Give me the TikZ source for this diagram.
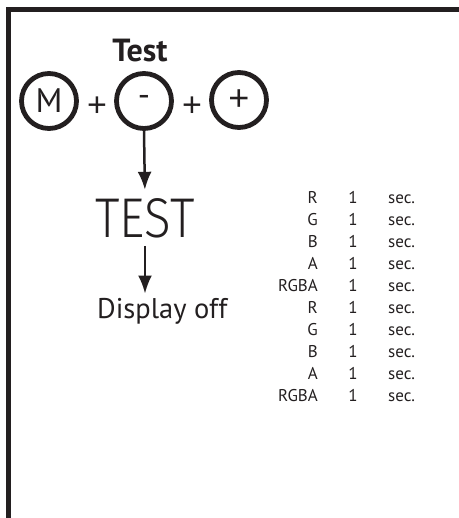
\documentclass[tikz,border=0pt]{standalone}
\usepackage{fontspec}
\usepackage{graphicx}
\setmainfont{PT Sans}
\newfontfamily\segfont{Fira Sans Light}
\newfontfamily\plusfont{Liberation Sans}
\usetikzlibrary{arrows.meta}
\definecolor{ink}{HTML}{231F20}
\tikzset{
  btn/.style={circle, draw=ink, line width=4.8pt, minimum size=55pt, inner sep=0pt, text=ink, font=\fontsize{34}{34}\selectfont},
  plustxt/.style={inner sep=0pt, text=ink, font=\fontsize{34}{34}\plusfont},
  arr/.style={draw=ink, line width=2.5pt, -{Latex[length=18pt,width=14pt]}},
  frame/.style={draw=ink, line width=5pt},
  col/.style={inner sep=0pt, text=ink, font=\fontsize{17}{17}\selectfont},
}
\begin{document}
\begin{tikzpicture}[x=1pt,y=-1pt]
\useasboundingbox (0,0) rectangle (458,518);
% frame
\coordinate (ftr) at (460,10);
\coordinate (ftl) at (8.5,10);
\coordinate (fbl) at (8.5,520);
\draw[frame] (ftr) -- (ftl) -- (fbl);
% title
\node[inner sep=0pt, anchor=base, text=ink, font=\fontsize{32}{32}\selectfont\bfseries] (title) at (140,62) {Test};
% buttons
\node[btn] (m) at (49,101) {M};
\node[plustxt] (p1) at (97,107) {+};
\node[btn] (minus) at (144,101) {\raisebox{-2pt}{-}};
\node[plustxt] (p2) at (192,107) {+};
\node[btn] (plus) at (239,100) {\plusfont\fontsize{36}{36}\selectfont\raisebox{-4pt}{+}};
% TEST display
\node[inner sep=0pt, anchor=base, text=ink, font=\fontsize{56}{56}\segfont] (test) at (145,237) {\scalebox{0.88}[1]{TEST}};
\node[inner sep=0pt, anchor=base west, text=ink, font=\fontsize{28.5}{28.5}\selectfont] (disp) at (97,318) {Display off};
\draw[arr, shorten >=8pt] (minus.south) -- (test.north);
\draw[arr, shorten <=8pt, shorten >=4pt] (test.south) -- (test.south |- disp.north);
% sequence list
\foreach \lab [count=\i from 0] in {R,G,B,A,RGBA,R,G,B,A,RGBA}{
  \node[col, anchor=base east] (c\i) at (318,203.5+22.05*\i) {\lab};
  \node[col, anchor=base] (n\i) at (353,203.5+22.05*\i) {1};
  \node[col, anchor=base west] (s\i) at (388,203.5+22.05*\i) {sec.};
}
\end{tikzpicture}
\end{document}
